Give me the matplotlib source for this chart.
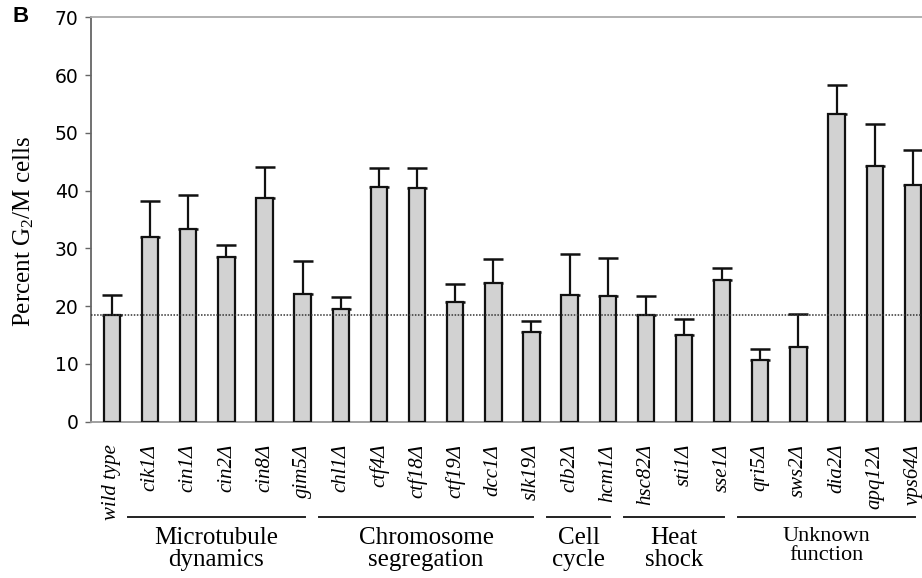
import matplotlib
matplotlib.use("Agg")
import matplotlib.pyplot as plt
import numpy as np

plt.rcParams["mathtext.fontset"] = "custom"
plt.rcParams["mathtext.rm"] = "Liberation Serif"
plt.rcParams["mathtext.it"] = "Liberation Serif:italic"

strains = ["wild type", "cik1Δ", "cin1Δ", "cin2Δ", "cin8Δ", "gim5Δ",
           "chl1Δ", "ctf4Δ", "ctf18Δ", "ctf19Δ", "dcc1Δ", "slk19Δ",
           "clb2Δ", "hcm1Δ", "hsc82Δ", "sti1Δ", "sse1Δ",
           "qri5Δ", "sws2Δ", "dia2Δ", "apq12Δ", "vps64Δ"]
percent_g2m = [18.5, 32.0, 33.3, 28.5, 38.8, 22.1,
               19.5, 40.6, 40.4, 20.7, 24.0, 15.5,
               22.0, 21.7, 18.5, 15.0, 24.5,
               10.6, 13.0, 53.3, 44.2, 40.9]
error_up = [3.4, 6.2, 6.0, 2.0, 5.3, 5.7,
            2.1, 3.4, 3.5, 3.2, 4.1, 1.9,
            7.0, 6.7, 3.3, 2.7, 2.1,
            1.9, 5.6, 4.9, 7.3, 6.2]
groups = ["Microtubule\ndynamics", "Chromosome\nsegregation", "Cell\ncycle",
          "Heat\nshock", "Unknown\nfunction"]
group_first = [1, 6, 12, 14, 17]
group_last = [5, 11, 13, 16, 21]
wild_type_level = percent_g2m[0]
y_ticks = [0, 10, 20, 30, 40, 50, 60, 70]

W, H = 922, 578
fig = plt.figure(figsize=(W / 100, H / 100), dpi=100)
ax_left = 91 / W
ax_bottom = 1 - 421.7 / H
ax_top = 1 - 17.3 / H
ax = fig.add_axes([ax_left, ax_bottom, 1 - ax_left, ax_top - ax_bottom])

x = np.arange(len(strains))
ax.bar(x, percent_g2m, width=0.43, color="#d2d2d2", edgecolor="#111111",
       linewidth=1.6, zorder=3)
ax.errorbar(x, percent_g2m, yerr=[np.zeros(len(x)), error_up], fmt="none",
            ecolor="#111111", elinewidth=1.6, capsize=7.5, capthick=1.8, zorder=2)
ax.axhline(wild_type_level, color="#333333", linewidth=1.1, linestyle=(0, (1, 1)),
           zorder=4)

ax.set_xlim(-0.55, 21.24)
ax.set_ylim(0, 70)
ax.set_yticks(y_ticks)
ax.tick_params(axis="y", direction="out", length=4, width=1, color="#666666",
               labelsize=13.5, pad=5)
for lbl in ax.get_yticklabels():
    lbl.set_fontfamily("DejaVu Sans")
ax.set_xticks(x)
ax.set_xticklabels(strains, rotation=90, fontfamily="Liberation Serif",
                   style="italic", fontsize=15, va="top", ha="center")
ax.tick_params(axis="x", length=0, pad=16)

ax.spines["left"].set_color("#666666")
ax.spines["left"].set_linewidth(1.3)
ax.spines["bottom"].set_color("#999999")
ax.spines["bottom"].set_linewidth(1.3)
ax.spines["top"].set_color("#aaaaaa")
ax.spines["top"].set_linewidth(1.3)
ax.spines["right"].set_visible(False)

ax.set_ylabel("Percent G$_2$/M cells", fontfamily="Liberation Serif", fontsize=18)
ax.yaxis.set_label_coords(-0.066, 0.47)

# group brackets
trans = matplotlib.transforms.blended_transform_factory(ax.transData, fig.transFigure)
line_y = 1 - 517 / H
for name, a, b in zip(groups, group_first, group_last):
    x0, x1 = a - 0.58, b + 0.05
    ax.plot([x0, x1], [line_y, line_y], transform=trans, color="#222222",
            linewidth=1.4, clip_on=False)
    fs = 16 if name.startswith("Unknown") else 18
    ax.text((x0 + x1) / 2, line_y - 0.018, name, transform=trans, ha="center",
            va="top", fontfamily="Liberation Serif", fontsize=fs,
            linespacing=0.95, clip_on=False)

fig.text(12 / W, 1 - 6 / H, "B", fontsize=16, fontweight="bold",
         fontfamily="Liberation Sans", ha="left", va="top")

fig.savefig("out.png", dpi=100)
